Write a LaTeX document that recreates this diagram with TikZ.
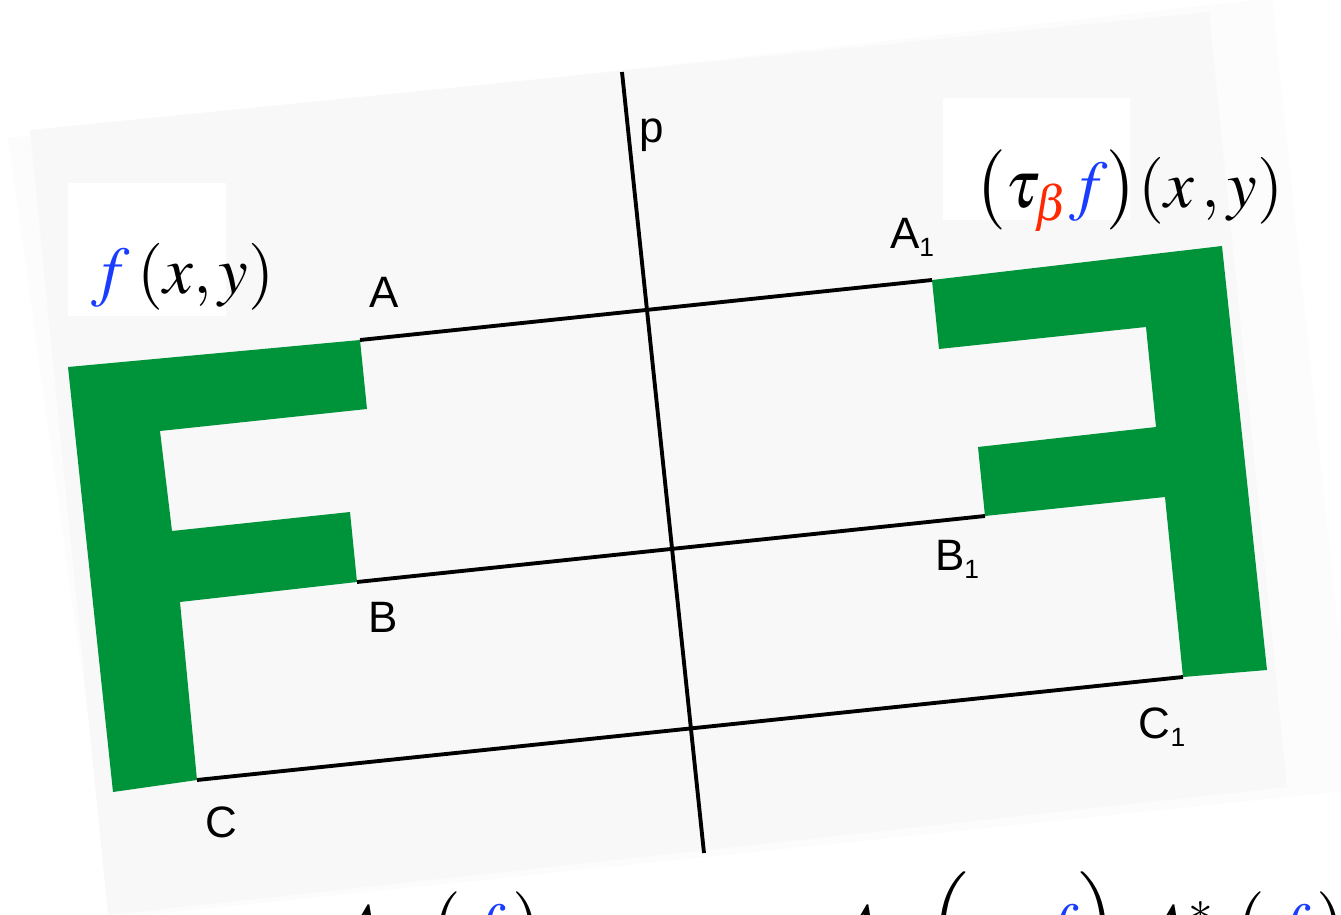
\documentclass[tikz,border=0pt]{standalone}
\usepackage{amsmath}
\usepackage{mathptmx}
\usepackage[no-math]{fontspec}
\setsansfont{Liberation Sans}
\usepackage{tikz}
\usetikzlibrary{positioning}

\definecolor{fgreen}{RGB}{0,148,58}
\definecolor{fblue}{RGB}{25,60,255}
\definecolor{fred}{RGB}{255,40,0}
\definecolor{panelgray}{RGB}{248,248,248}
\definecolor{papergray}{RGB}{252,252,252}
\newcommand{\sub}[1]{\raisebox{-0.35ex}{\fontsize{7.5}{9}\selectfont #1}}

\begin{document}
\begin{tikzpicture}[
    x=0.01cm, y=-0.01cm,
    lbl/.style={font=\fontsize{12.5}{14}\selectfont\sffamily, inner sep=0pt},
    eq/.style={font=\fontsize{19}{22}\selectfont, inner sep=0pt},
    axis/.style={line width=1.1pt}
]
\useasboundingbox (0,0) rectangle (1341,915);
\begin{scope}
\clip (0,0) rectangle (1341,915);
% paper
\fill[papergray] (8,138) -- (1272,-2) -- (1355,790) -- (116,918) -- cycle;
\fill[panelgray] (30,130) -- (1209,12) -- (1287,787) -- (108,915) -- cycle;
\fill[white] (68,183) rectangle (226,316);
\fill[white] (943,98) rectangle (1130,220);

% corner points
\coordinate (A) at (360,340);
\coordinate (A1) at (932,280);
\coordinate (B) at (357,582);
\coordinate (B1) at (985,516);
\coordinate (C) at (197,780);
\coordinate (C1) at (1183,677);
\coordinate (ptop) at (622,72);
\coordinate (pbot) at (704,853);

% the letter and its mirror image
\fill[fgreen] (68,367) -- (A) -- (367,409) -- (160,431) -- (172,531) -- (350,512)
  -- (B) -- (180,602) -- (C) -- (113,792) -- cycle;
\fill[fgreen] (A1) -- (1222,246) -- (1267,670) -- (C1) -- (1165,497) -- (B1)
  -- (978,447) -- (1156,427) -- (1146,327) -- (939,349) -- cycle;

\draw[axis] (ptop) -- (pbot);
\draw[axis] (A) -- (A1);
\draw[axis] (B) -- (B1);
\draw[axis] (C) -- (C1);

\node[lbl] (lp) at (652,135) {p};
\node[lbl] (lA) at (384,292) {A};
\node[lbl] (lA1) at (912,237) {A\sub{1}};
\node[lbl] (lB) at (383,617) {B};
\node[lbl] (lB1) at (957,559) {B\sub{1}};
\node[lbl] (lC) at (221,822) {C};
\node[lbl] (lC1) at (1162,727) {C\sub{1}};

\node[eq, anchor=base] (fxy) at (183,293) {$\textcolor{fblue}{f}\,(x,y)$};
\node[eq, anchor=base] (tfxy) at (1129,207)
  {$\bigl(\tau_{\textcolor{fred}{\beta}}\textcolor{fblue}{f}\bigr)(x\,,y)$};

\node[eq, anchor=base west] (lhs) at (343,949) {$A_p\;\bigl(\,\textcolor{fblue}{f}\,\bigr)$};
\node[eq, anchor=base west] (rhs) at (842,949)
  {$A_p\;\Bigl(\tau_{\textcolor{fred}{\beta}}\,\textcolor{fblue}{f}\Bigr)\;\;A^*_p\;\bigl(\,\textcolor{fblue}{f}\,\bigr)$};
\end{scope}
\end{tikzpicture}
\end{document}
